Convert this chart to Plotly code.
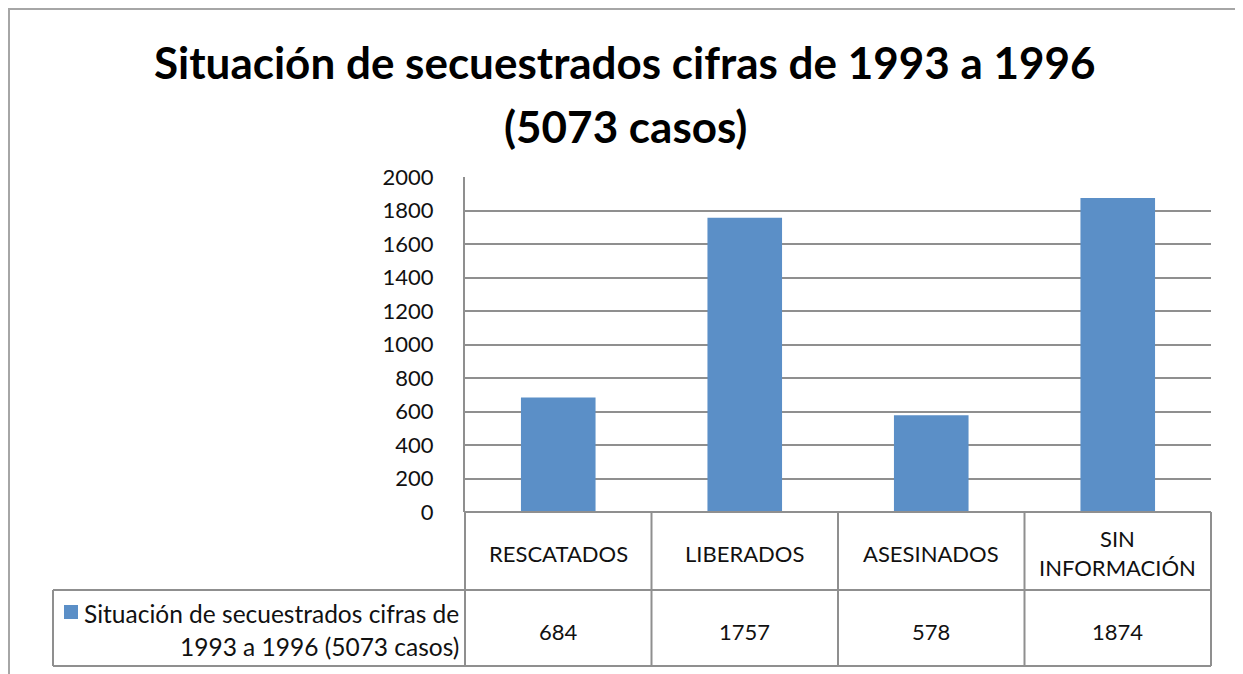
import plotly.graph_objects as go

# data
categorias = ['RESCATADOS', 'LIBERADOS', 'ASESINADOS', 'SIN INFORMACIÓN']
etiquetas = ['RESCATADOS', 'LIBERADOS', 'ASESINADOS', 'SIN<br>INFORMACIÓN']
casos = [684, 1757, 578, 1874]
serie = 'Situación de secuestrados cifras de 1993 a 1996 (5073 casos)'
y_ticks = list(range(0, 2001, 200))

azul = '#5b8fc7'
gris = '#8f8f8f'
fuente = 'Lato, Carlito, Calibri, sans-serif'

W, H = 1243, 674
OFF = 8                              # body margin of the page
L, R, T, B = 465, 1211, 177, 512     # plot area in page pixels


def px(x):
    return (x - L) / (R - L)


def py(y):
    return (B - y) / (B - T)


fig = go.Figure(go.Bar(
    x=categorias, y=casos, name=serie,
    marker=dict(color=azul, line=dict(width=0)),
    width=0.4,
))

shapes = []
# table lines
n = len(categorias)
shapes.append(dict(type='line', xref='paper', yref='paper', x0=0, x1=1, y0=0, y1=0,
                   line=dict(color=gris, width=2)))
for y in [590, 666]:
    shapes.append(dict(type='line', xref='paper', yref='paper', x0=px(53), x1=1, y0=py(y), y1=py(y),
                       line=dict(color=gris, width=2)))
for k in range(n + 1):
    shapes.append(dict(type='line', xref='paper', yref='paper', x0=k / n, x1=k / n, y0=0, y1=py(666),
                       line=dict(color=gris, width=2)))
shapes.append(dict(type='line', xref='paper', yref='paper', x0=px(53), x1=px(53), y0=py(590), y1=py(666),
                   line=dict(color=gris, width=2)))
# legend key
shapes.append(dict(type='rect', xref='paper', yref='paper', x0=px(64), x1=px(78), y0=py(605), y1=py(619),
                   fillcolor=azul, line=dict(width=0)))
# outer frame
shapes.append(dict(type='rect', xref='paper', yref='paper', x0=px(9), x1=px(1238), y0=py(9), y1=py(700),
                   line=dict(color='#a6a6a6', width=2)))

annotations = [
    dict(text='<b>Situación de secuestrados cifras de 1993 a 1996</b>', x=px(625), y=py(62)),
    dict(text='<b>(5073 casos)</b>', x=px(625), y=py(126)),
]
for a in annotations:
    a.update(xref='paper', yref='paper', showarrow=False, xanchor='center', yanchor='middle',
             font=dict(family=fuente, size=44, color='#000'))

for cat, lab, v in zip(categorias, etiquetas, casos):
    annotations.append(dict(text=lab, x=cat, xref='x', y=py(553), yref='paper', showarrow=False,
                            xanchor='center', yanchor='middle',
                            font=dict(family=fuente, size=22, color='#111')))
    annotations.append(dict(text=str(v), x=cat, xref='x', y=py(631), yref='paper', showarrow=False,
                            xanchor='center', yanchor='middle',
                            font=dict(family=fuente, size=22, color='#111')))

partes = ['Situación de secuestrados cifras de', '1993 a 1996 (5073 casos)']
for linea, y in zip(partes, [613, 646]):
    annotations.append(dict(text=linea, x=px(461), y=py(y), xref='paper', yref='paper', showarrow=False,
                            xanchor='right', yanchor='middle',
                            font=dict(family=fuente, size=24.5, color='#111')))

fig.update_layout(
    width=W, height=H,
    margin=dict(l=L - OFF, r=W - R + OFF, t=T - OFF, b=H - B + OFF, pad=0),
    paper_bgcolor='white', plot_bgcolor='white',
    showlegend=False,
    shapes=shapes,
    annotations=annotations,
    xaxis=dict(showticklabels=False, showgrid=False, showline=False, zeroline=False,
               range=[-0.5, n - 0.5], fixedrange=True),
    yaxis=dict(range=[0, 2000], tickvals=y_ticks, showgrid=True, gridcolor=gris, gridwidth=2,
               showline=True, linecolor=gris, linewidth=2, zeroline=False, ticks='',
               ticklabelstandoff=25,
               tickfont=dict(family=fuente, size=22, color='#111'), fixedrange=True),
)

fig.write_html("out.html")
